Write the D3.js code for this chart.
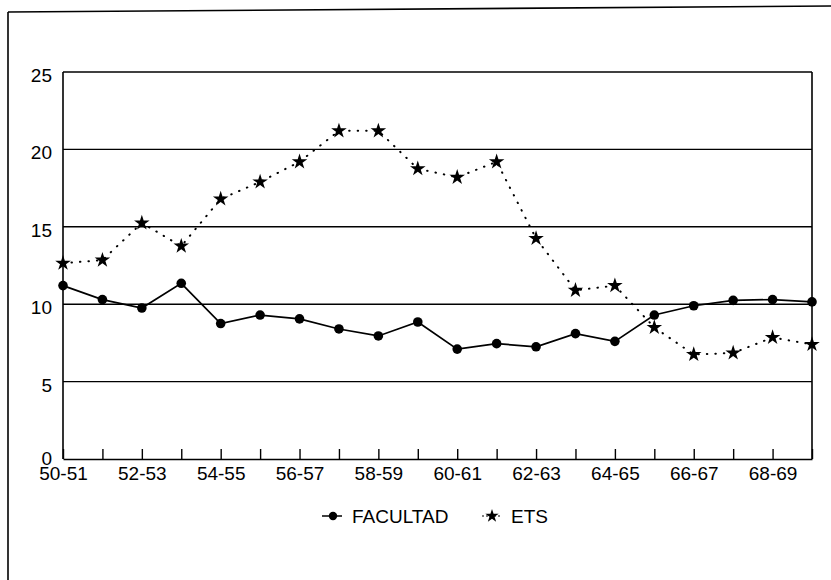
<!DOCTYPE html>
<html><head><meta charset="utf-8">
<script src="https://cdn.jsdelivr.net/npm/d3@7"></script>
<style>body{margin:0;background:#fff}svg{display:block}</style>
</head><body>
<script>
const categories = ["50-51","51-52","52-53","53-54","54-55","55-56","56-57","57-58","58-59","59-60","60-61","61-62","62-63","63-64","64-65","65-66","66-67","67-68","68-69","69-70"];
const facultad = [11.2,10.3,9.75,11.35,8.75,9.3,9.05,8.4,7.95,8.85,7.1,7.45,7.25,8.1,7.6,9.3,9.9,10.25,10.3,10.15];
const ets = [12.65,12.85,15.25,13.75,16.8,17.9,19.2,21.2,21.2,18.75,18.2,19.2,14.25,10.9,11.2,8.5,6.75,6.85,7.85,7.4];
const yTicks = [0,5,10,15,20,25];
const seriesNames = ["FACULTAD","ETS"];

const W = 831, H = 580;
const svg = d3.select("body").append("svg").attr("width", W).attr("height", H);
const font = "'Liberation Sans', Arial, Helvetica, sans-serif";
const fs = 19;

// outer frame (top and left edges only, as in the scan)
svg.append("line").attr("x1", 8).attr("y1", 12).attr("x2", 831).attr("y2", 6)
  .attr("stroke", "#000").attr("stroke-width", 1.6);
svg.append("line").attr("x1", 8).attr("y1", 12).attr("x2", 8).attr("y2", 580)
  .attr("stroke", "#000").attr("stroke-width", 1.6);

const x = d3.scalePoint().domain(categories).range([63, 812]);
const y = d3.scaleLinear().domain([0, 25]).range([459, 72]);

// gridlines
svg.append("g").selectAll("line").data(yTicks.filter(d => d > 0)).join("line")
  .attr("x1", 63).attr("x2", 812).attr("y1", d => y(d)).attr("y2", d => y(d))
  .attr("stroke", "#000").attr("stroke-width", 1.4);

// plot frame sides
svg.append("line").attr("x1", 63).attr("x2", 63).attr("y1", y(25)).attr("y2", y(0)).attr("stroke", "#000").attr("stroke-width", 1.6);
svg.append("line").attr("x1", 812).attr("x2", 812).attr("y1", y(25)).attr("y2", y(0)).attr("stroke", "#000").attr("stroke-width", 1.6);

// x axis
const xAxis = svg.append("g").attr("transform", `translate(0,${y(0)})`)
  .call(d3.axisBottom(x).tickSizeInner(-10).tickSizeOuter(0).tickPadding(21)
    .tickFormat((d, i) => i % 2 === 0 ? d : ""));
xAxis.select(".domain").attr("stroke", "#000").attr("stroke-width", 1.6);
xAxis.selectAll(".tick line").attr("stroke", "#000").attr("stroke-width", 1.4);
xAxis.selectAll("text").attr("font-family", font).attr("font-size", fs).attr("fill", "#000").attr("dy", "0");

// y axis labels
const yAxis = svg.append("g").attr("transform", `translate(63,0)`)
  .call(d3.axisLeft(y).tickValues(yTicks).tickSize(0).tickPadding(11));
yAxis.select(".domain").remove();
yAxis.selectAll("text").attr("font-family", font).attr("font-size", fs).attr("fill", "#000")
  .attr("dy", d => d === 0 ? "0.3em" : "0.5em");

// ETS dotted line
const line = d3.line().x((d, i) => x(categories[i])).y(d => y(d));
svg.append("path").datum(ets).attr("d", line).attr("fill", "none")
  .attr("stroke", "#000").attr("stroke-width", 2).attr("stroke-linecap", "round")
  .attr("stroke-dasharray", "0.5,8");

// FACULTAD solid line
svg.append("path").datum(facultad).attr("d", line).attr("fill", "none")
  .attr("stroke", "#000").attr("stroke-width", 1.7);

svg.append("g").selectAll("circle").data(facultad).join("circle")
  .attr("cx", (d, i) => x(categories[i])).attr("cy", d => y(d)).attr("r", 4.8).attr("fill", "#000");

const star = d3.symbol().type(d3.symbolStar).size(75);
svg.append("g").selectAll("path").data(ets).join("path")
  .attr("d", star).attr("transform", (d, i) => `translate(${x(categories[i])},${y(d)})`).attr("fill", "#000");

// legend
const lg = svg.append("g").attr("font-family", font).attr("font-size", fs);
lg.append("line").attr("x1", 322).attr("x2", 342).attr("y1", 516).attr("y2", 516).attr("stroke", "#000").attr("stroke-width", 1.5);
lg.append("circle").attr("cx", 333).attr("cy", 516).attr("r", 4.2).attr("fill", "#000");
lg.append("text").attr("x", 352).attr("y", 523).text(seriesNames[0]);
lg.append("line").attr("x1", 482).attr("x2", 502).attr("y1", 516).attr("y2", 516).attr("stroke", "#000").attr("stroke-width", 1).attr("stroke-dasharray", "2,2");
lg.append("path").attr("d", d3.symbol().type(d3.symbolStar).size(55)).attr("transform", "translate(492,516)").attr("fill", "#000");
lg.append("text").attr("x", 511).attr("y", 523).text(seriesNames[1]);
</script>
</body></html>
